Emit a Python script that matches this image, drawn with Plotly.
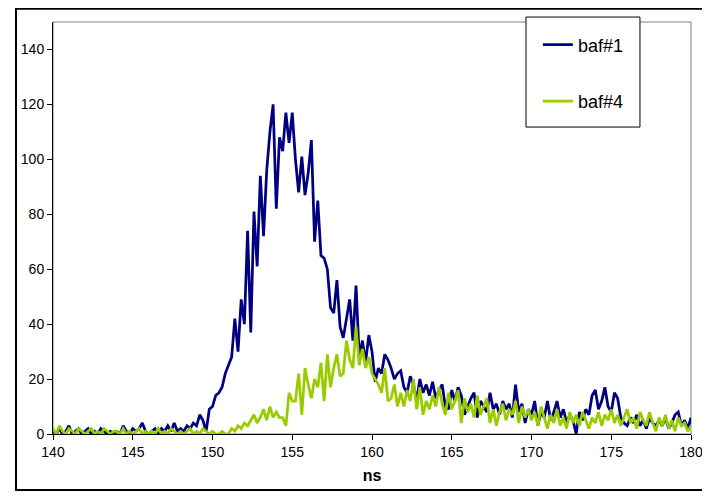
import numpy as np
import plotly.graph_objects as go

# time grid (ns), 0.2 ns sampling
time_ns = np.round(np.arange(140.0, 180.0001, 0.2), 1)

baf1 = [
    1, 0, 2, 0, 1, 3, 0, 1, 2, 0,
    1, 2, 0, 1, 0, 2, 1, 0, 1, 0,
    1, 0, 3, 1, 0, 2, 1, 2, 4, 1,
    0, 1, 2, 0, 2, 1, 3, 1, 4, 1,
    2, 1, 3, 2, 4, 3, 7, 5, 1, 9,
    10, 14, 15, 17, 22, 25, 28, 42, 30, 49,
    40, 74, 37, 81, 61, 94, 72, 96, 110, 120,
    82, 108, 103, 117, 106, 117, 100, 88, 101, 87,
    95, 107, 70, 85, 65, 64, 60, 46, 44, 56,
    39, 35, 42, 49, 34, 54, 28, 34, 26, 36,
    30, 19, 24, 22, 29, 27, 24, 20, 22, 23,
    17, 15, 21, 18, 12, 20, 15, 18, 14, 19,
    13, 16, 18, 10, 9, 16, 12, 17, 14, 7,
    10, 13, 15, 6, 12, 10, 8, 15, 9, 11,
    7, 12, 9, 11, 6, 18, 8, 11, 4, 9,
    7, 12, 3, 8, 6, 12, 5, 8, 12, 6,
    9, 4, 7, 5, 0, 8, 5, 9, 7, 14,
    16, 9, 12, 17, 10, 8, 15, 13, 6, 4,
    3, 6, 4, 7, 3, 5, 2, 6, 4, 3,
    5, 3, 6, 2, 4, 7, 8, 3, 5, 2,
    6,
]

baf4 = [
    2, 0, 3, 1, 0, 2, 1, 0, 2, 1,
    0, 1, 2, 0, 1, 0, 2, 1, 0, 1,
    1, 0, 2, 0, 1, 0, 1, 2, 0, 1,
    0, 1, 0, 2, 0, 1, 0, 2, 1, 0,
    1, 0, 1, 2, 0, 1, 0, 2, 1, 0,
    1, 0, 0, 1, 0, 0, 2, 1, 3, 2,
    4, 3, 5, 7, 4, 6, 9, 5, 10, 6,
    8, 6, 6, 3, 15, 12, 12, 22, 7, 24,
    18, 13, 20, 17, 26, 12, 29, 17, 24, 29,
    21, 22, 34, 27, 24, 39, 25, 31, 24, 28,
    22, 20, 18, 15, 24, 12, 13, 18, 10, 15,
    10, 16, 12, 20, 9, 17, 7, 12, 9, 14,
    10, 17, 11, 7, 15, 9, 12, 16, 4, 13,
    8, 11, 6, 14, 7, 10, 13, 4, 9, 3,
    8, 11, 5, 9, 7, 12, 4, 10, 6, 9,
    5, 8, 3, 10, 6, 2, 7, 4, 9, 3,
    6, 2, 8, 4, 7, 3, 8, 5, 2, 6,
    4, 8, 3, 7, 5, 9, 4, 7, 3, 6,
    9, 4, 6, 2, 8, 5, 3, 8, 4, 1,
    6, 3, 7, 2, 5, 1, 6, 3, 4, 1,
    3,
]

x_ticks = [140, 145, 150, 155, 160, 165, 170, 175, 180]
y_ticks = [0, 20, 40, 60, 80, 100, 120, 140]

FONT = "Liberation Sans, Arial, sans-serif"

fig = go.Figure()
fig.add_trace(go.Scatter(x=time_ns, y=baf1, mode="lines", name="baf#1",
                         legendgroup="a",
                         line=dict(color="#000080", width=2.75)))
fig.add_trace(go.Scatter(x=time_ns, y=baf4, mode="lines", name="baf#4",
                         legendgroup="b",
                         line=dict(color="#99CC00", width=2.75)))

# the page body adds an 8 px offset; the figure is sized to compensate
fig.update_layout(
    width=702, height=489,
    margin=dict(l=45, r=19, t=14, b=63, autoexpand=False),
    paper_bgcolor="white", plot_bgcolor="white",
    font=dict(family=FONT, size=14, color="black"),
    showlegend=True,
    legend=dict(x=0.760, y=0.989, xanchor="left", yanchor="top",
                bgcolor="rgba(0,0,0,0)", borderwidth=0,
                font=dict(size=18), tracegroupgap=30),
    xaxis=dict(range=[140, 180], tickvals=x_ticks, showgrid=False,
               zeroline=False, showline=True, linecolor="black",
               linewidth=1, ticks="outside", ticklen=5, tickcolor="black",
               title=dict(text="<b>ns</b>", font=dict(size=16), standoff=11)),
    yaxis=dict(range=[0, 150], tickvals=y_ticks, showgrid=False,
               zeroline=False, showline=True, linecolor="black",
               linewidth=1, ticks="outside", ticklen=5, tickcolor="black"),
    shapes=[
        dict(type="rect", xref="x domain", yref="y domain", x0=0, x1=1,
             y0=0, y1=1, line=dict(color="#808080", width=1), layer="below"),
        dict(type="rect", xref="paper", yref="paper", x0=-0.058, x1=1.0204,
             y0=-0.136, y1=1.032, line=dict(color="black", width=2)),
        dict(type="rect", xref="paper", yref="paper", x0=0.7414, x1=0.920,
             y0=0.745, y1=1.012, fillcolor="white",
             line=dict(color="black", width=1), layer="above"),
    ],
)

fig.write_html("out.html")
